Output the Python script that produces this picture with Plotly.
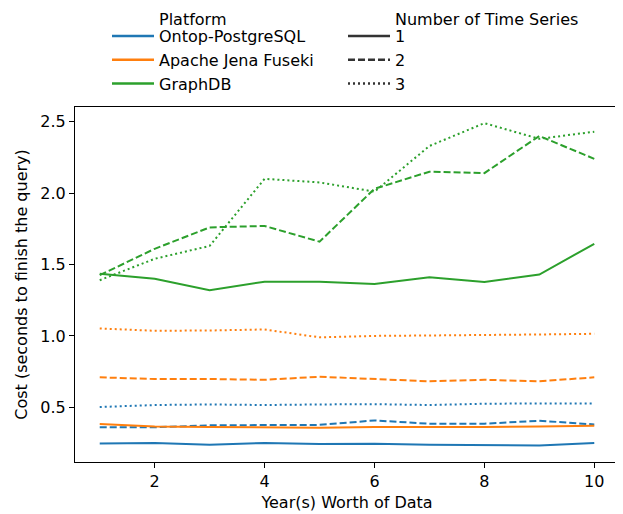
import plotly.graph_objects as go

years = [1, 2, 3, 4, 5, 6, 7, 8, 9, 10]

platforms = ["Ontop-PostgreSQL", "Apache Jena Fuseki", "GraphDB"]
colors = ["#1f77b4", "#ff7f0e", "#2ca02c"]
series_counts = ["1", "2", "3"]
legend_headers = ["Platform", "Number of Time Series"]

ontop_1 = [0.247, 0.250, 0.238, 0.250, 0.243, 0.245, 0.238, 0.238, 0.233, 0.250]
ontop_2 = [0.360, 0.360, 0.374, 0.377, 0.377, 0.408, 0.385, 0.385, 0.406, 0.380]
ontop_3 = [0.502, 0.516, 0.520, 0.516, 0.520, 0.522, 0.516, 0.525, 0.527, 0.527]

jena_1 = [0.383, 0.366, 0.362, 0.360, 0.357, 0.362, 0.360, 0.362, 0.366, 0.370]
jena_2 = [0.710, 0.698, 0.698, 0.693, 0.714, 0.698, 0.682, 0.693, 0.682, 0.710]
jena_3 = [1.052, 1.036, 1.038, 1.045, 0.990, 1.000, 1.003, 1.005, 1.010, 1.015]

graphdb_1 = [1.436, 1.400, 1.320, 1.380, 1.380, 1.363, 1.410, 1.377, 1.430, 1.645]
graphdb_2 = [1.425, 1.610, 1.760, 1.770, 1.660, 2.030, 2.150, 2.140, 2.400, 2.240]
graphdb_3 = [1.390, 1.540, 1.630, 2.100, 2.075, 2.010, 2.330, 2.490, 2.380, 2.430]

data = {
    "Ontop-PostgreSQL": [ontop_1, ontop_2, ontop_3],
    "Apache Jena Fuseki": [jena_1, jena_2, jena_3],
    "GraphDB": [graphdb_1, graphdb_2, graphdb_3],
}

dashes = ["solid", "7px,3px", "2px,3px"]
FONT = "DejaVu Sans"
FS = 16

fig = go.Figure()

for p, c in zip(platforms, colors):
    for s, d in zip(data[p], dashes):
        fig.add_trace(go.Scatter(x=years, y=s, mode="lines",
                                 line=dict(color=c, width=2, dash=d),
                                 showlegend=False, hoverinfo="skip"))

# Legend 1: Platform
for i, (p, c) in enumerate(zip(platforms, colors)):
    fig.add_trace(go.Scatter(x=[None], y=[None], mode="lines", name=p,
                             line=dict(color=c, width=2.5),
                             legend="legend", legendgroup=f"p{i}"))

# Legend 2: Number of Time Series
for i, (s, d) in enumerate(zip(series_counts, dashes)):
    fig.add_trace(go.Scatter(x=[None], y=[None], mode="lines", name=s,
                             line=dict(color="#333333", width=2.5, dash=d),
                             legend="legend2", legendgroup=f"s{i}"))

# page has an 8px body margin, so figure coords = page coords - 8
W, H = 615, 506
PL, PR, PT, PB = 67, 611, 99, 454
pw, ph = PR - PL, PB - PT

legend_common = dict(font=dict(family=FONT, size=FS, color="black"),
                     bgcolor="rgba(0,0,0,0)", borderwidth=0,
                     xanchor="left", yanchor="top", itemwidth=42,
                     traceorder="grouped", tracegroupgap=0)

leg_x = [107 - 8, 343 - 8]
hdr_x = [157 - 8, 393 - 8]

for txt, hx in zip(legend_headers, hdr_x):
    fig.add_annotation(text=txt, xref="paper", yref="paper",
                       x=(hx - PL) / pw, y=PB / ph,
                       xanchor="left", yanchor="top", showarrow=False,
                       font=dict(family=FONT, size=FS, color="black"))

fig.update_layout(
    width=W, height=H,
    margin=dict(l=PL, r=W - PR, t=PT, b=H - PB),
    paper_bgcolor="white", plot_bgcolor="white",
    font=dict(family=FONT, size=FS, color="black"),
    legend=dict(x=(leg_x[0] - PL) / pw, y=(PB - 11) / ph, **legend_common),
    legend2=dict(x=(leg_x[1] - PL) / pw, y=(PB - 11) / ph, **legend_common),
    xaxis=dict(range=[0.55, 10.45], tickvals=[2, 4, 6, 8, 10],
               ticks="outside", ticklen=5, tickwidth=1, tickcolor="black",
               showline=True, linecolor="black", linewidth=1, mirror=True,
               showgrid=False, zeroline=False, automargin=False,
               tickfont=dict(family=FONT, size=FS),
               title=dict(text="Year(s) Worth of Data", standoff=6,
                          font=dict(family=FONT, size=FS))),
    yaxis=dict(range=[0.117, 2.603], tickvals=[0.5, 1.0, 1.5, 2.0, 2.5],
               tickformat=".1f",
               ticks="outside", ticklen=5, tickwidth=1, tickcolor="black",
               showline=True, linecolor="black", linewidth=1, mirror=True,
               showgrid=False, zeroline=False, automargin=False,
               tickfont=dict(family=FONT, size=FS),
               title=dict(text="Cost (seconds to finish the query)", standoff=8,
                          font=dict(family=FONT, size=FS))),
)

fig.write_html("out.html")
